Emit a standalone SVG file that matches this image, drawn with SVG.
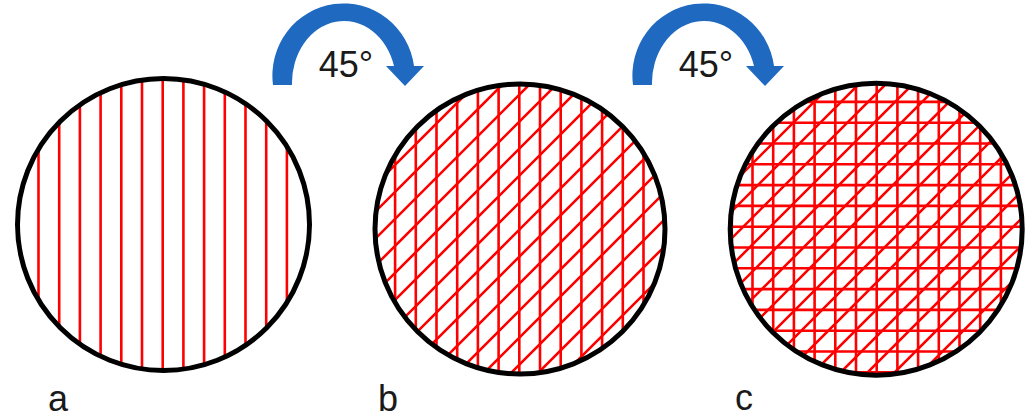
<svg xmlns="http://www.w3.org/2000/svg" width="1028" height="419" viewBox="0 0 1028 419">
<style>
.ring{fill:none;stroke:#000;stroke-width:5}
.hatch{fill:none;stroke:#ff0000;stroke-width:2.6}
.arrow{fill:#1f69c1}
.lbl{font-family:"Liberation Sans",Arial,sans-serif;font-size:36px;fill:#1a1a1a}
</style>
<defs>
<clipPath id="ca"><circle cx="163.5" cy="224.5" r="146"/></clipPath>
<clipPath id="cb"><circle cx="520" cy="229" r="145"/></clipPath>
<clipPath id="cc"><circle cx="876.2" cy="229.2" r="146"/></clipPath>
<path id="arr" d="M273,85 A71,72 0 0 1 414,66 L424,66 L405,86 L386,66 L394,66 A52,62 0 0 0 292,85 Z"/>
</defs>
<rect width="1028" height="419" fill="#fff"/>

<g id="circle-a">
<g clip-path="url(#ca)">
<path class="hatch" d="M38.5,70V380M59.2,70V380M79.9,70V380M100.6,70V380M121.3,70V380M142,70V380M162.7,70V380M183.4,70V380M204.1,70V380M224.8,70V380M245.5,70V380M266.2,70V380M286.9,70V380"/>
</g>
<circle class="ring" cx="163.5" cy="224.5" r="146"/>
</g>

<g id="circle-b">
<g clip-path="url(#cb)">
<path class="hatch" d="M395.1,75V385M415.8,75V385M436.5,75V385M457.2,75V385M477.9,75V385M498.6,75V385M519.3,75V385M540,75V385M560.7,75V385M581.4,75V385M602.1,75V385M622.8,75V385M643.5,75V385"/>
<path class="hatch" d="M370,190L670,-110M370,217L670,-83M370,244L670,-56M370,271L670,-29M370,298L670,-2M370,325L670,25M370,352L670,52M370,379L670,79M370,406L670,106M370,433L670,133M370,460L670,160M370,487L670,187M370,514L670,214M370,541L670,241M370,568L670,268"/>
</g>
<circle class="ring" cx="520" cy="229" r="145"/>
</g>

<g id="circle-c">
<g clip-path="url(#cc)">
<path class="hatch" d="M731.8,75V385M752.5,75V385M773.2,75V385M793.9,75V385M814.6,75V385M835.3,75V385M856,75V385M876.7,75V385M897.4,75V385M918.1,75V385M938.8,75V385M959.5,75V385M980.2,75V385M1000.9,75V385"/>
<path class="hatch" d="M725,101.9H1028M725,122.7H1028M725,143.5H1028M725,164.3H1028M725,185.1H1028M725,205.9H1028M725,226.7H1028M725,247.5H1028M725,268.3H1028M725,289.1H1028M725,309.9H1028M725,330.7H1028M725,351.5H1028M725,372.3H1028"/>
<path class="hatch" d="M726,190L1026,-110M726,217L1026,-83M726,244L1026,-56M726,271L1026,-29M726,298L1026,-2M726,325L1026,25M726,352L1026,52M726,379L1026,79M726,406L1026,106M726,433L1026,133M726,460L1026,160M726,487L1026,187M726,514L1026,214M726,541L1026,241M726,568L1026,268"/>
</g>
<circle class="ring" cx="876.2" cy="229.2" r="146"/>
</g>

<g id="rotate-1">
<use href="#arr" class="arrow"/>
<text class="lbl" x="346" y="77" text-anchor="middle">45°</text>
</g>
<g id="rotate-2">
<use href="#arr" class="arrow" transform="translate(360,0)"/>
<text class="lbl" x="706" y="77" text-anchor="middle">45°</text>
</g>

<g id="labels">
<text class="lbl" x="48" y="411">a</text>
<text class="lbl" x="378" y="411">b</text>
<text class="lbl" x="735" y="410">c</text>
</g>
</svg>
